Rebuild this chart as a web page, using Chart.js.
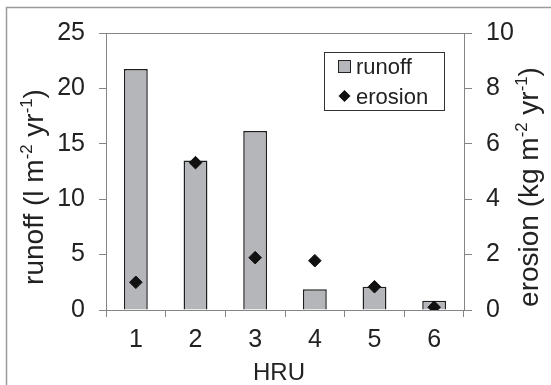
<!DOCTYPE html>
<html>
<head>
<style>
  html, body { margin: 0; padding: 0; background: #fff; }
  #wrap { width: 551px; height: 385px; position: relative; }
</style>
</head>
<body>
<div id="wrap"><canvas id="myChart"></canvas></div>
<script src="https://cdn.jsdelivr.net/npm/chart.js@4.4.0/dist/chart.umd.min.js"></script>
<script>
// data
const hru = ['1', '2', '3', '4', '5', '6'];
const runoff = [21.75, 13.5, 16.15, 1.87, 2.1, 0.84];
const erosion = [1.0, 5.32, 1.89, 1.78, 0.84, 0.1];
const runoffTicks = [0, 5, 10, 15, 20, 25];
const erosionTicks = [0, 2, 4, 6, 8, 10];

const FONT = '"Liberation Sans", Arial, sans-serif';
const axisGray = '#858585';

// draw text with superscript pieces, rotated or not, centred on (cx, baseline)
function richText(ctx, parts, cx, base, rot, size) {
  ctx.save();
  ctx.translate(cx, base);
  ctx.rotate(rot);
  let w = 0;
  parts.forEach(p => {
    ctx.font = (p.sup ? size * 0.6 : size) + 'px ' + FONT;
    w += ctx.measureText(p.t).width;
  });
  let x = -w / 2;
  ctx.fillStyle = '#222';
  ctx.textBaseline = 'alphabetic';
  ctx.textAlign = 'left';
  parts.forEach(p => {
    ctx.font = (p.sup ? size * 0.6 : size) + 'px ' + FONT;
    ctx.fillText(p.t, x, p.sup ? -size * 0.38 : 0);
    x += ctx.measureText(p.t).width;
  });
  ctx.restore();
}

const decor = {
  id: 'decor',
  afterDraw(chart) {
    const ctx = chart.ctx;
    const a = chart.chartArea;
    ctx.save();
    // outer frame (left and top only)
    ctx.strokeStyle = '#9a9a9a';
    ctx.lineWidth = 1.5;
    ctx.beginPath();
    ctx.moveTo(6.5, 385);
    ctx.lineTo(6.5, 7.5);
    ctx.lineTo(551, 7.5);
    ctx.stroke();
    // top edge of plot area
    ctx.strokeStyle = axisGray;
    ctx.lineWidth = 1;
    ctx.beginPath();
    ctx.moveTo(a.left, a.top + 0.5);
    ctx.lineTo(a.right, a.top + 0.5);
    ctx.stroke();

    // axis titles
    richText(ctx, [{t: 'runoff (l m'}, {t: '-2', sup: true}, {t: ' yr'}, {t: '-1', sup: true}, {t: ')'}],
      43, 187, -Math.PI / 2, 28);
    richText(ctx, [{t: 'erosion (kg m'}, {t: '-2', sup: true}, {t: ' yr'}, {t: '-1', sup: true}, {t: ')'}],
      538, 187, -Math.PI / 2, 28);
    richText(ctx, [{t: 'HRU'}], 279, 380, 0, 24);

    // legend
    const ds = chart.data.datasets;
    ctx.strokeStyle = '#333';
    ctx.lineWidth = 1;
    ctx.fillStyle = '#fff';
    ctx.fillRect(324, 52, 120, 58);
    ctx.strokeRect(324.5, 52.5, 120, 58);
    ctx.fillStyle = ds[0].backgroundColor;
    ctx.fillRect(338.5, 60.5, 12, 12);
    ctx.strokeStyle = '#222';
    ctx.strokeRect(338.5, 60.5, 12, 12);
    ctx.fillStyle = ds[1].backgroundColor;
    ctx.beginPath();
    ctx.moveTo(344.5, 90);
    ctx.lineTo(350.5, 96);
    ctx.lineTo(344.5, 102);
    ctx.lineTo(338.5, 96);
    ctx.closePath();
    ctx.fill();
    ctx.fillStyle = '#222';
    ctx.font = '22px ' + FONT;
    ctx.textAlign = 'left';
    ctx.textBaseline = 'alphabetic';
    ctx.fillText(ds[0].label, 356, 74);
    ctx.fillText(ds[1].label, 356, 104);
    ctx.restore();
  }
};

const ctx = document.getElementById('myChart').getContext('2d');
new Chart(ctx, {
  data: {
    labels: hru,
    datasets: [
      {
        type: 'bar',
        label: 'runoff',
        data: runoff,
        yAxisID: 'y',
        backgroundColor: '#b5b6ba',
        borderColor: '#1e1e1e',
        borderWidth: 1.5,
        barPercentage: 0.4,
        categoryPercentage: 1,
        order: 1
      },
      {
        type: 'scatter',
        label: 'erosion',
        data: erosion,
        yAxisID: 'y1',
        backgroundColor: '#111',
        borderColor: '#111',
        pointStyle: 'rectRot',
        pointRadius: 6.3,
        showLine: false,
        order: 0
      }
    ]
  },
  options: {
    responsive: true,
    maintainAspectRatio: false,
    animation: false,
    layout: { padding: { top: 33, left: 0, right: 0, bottom: 0 } },
    plugins: { legend: { display: false }, tooltip: { enabled: false } },
    scales: {
      x: {
        type: 'category',
        offset: true,
        grid: { display: true, drawOnChartArea: false, offset: true, tickLength: 7, color: axisGray },
        border: { color: axisGray },
        ticks: { font: { family: FONT, size: 25 }, color: '#222', padding: 8 },
        afterFit: s => { s.height = 75; }
      },
      y: {
        position: 'left',
        min: 0, max: 25,
        afterBuildTicks: s => { s.ticks = runoffTicks.map(v => ({ value: v })); },
        grid: { drawOnChartArea: false, tickLength: 7, color: axisGray },
        border: { color: axisGray },
        ticks: { font: { family: FONT, size: 25 }, color: '#222', padding: 14 },
        afterFit: s => { s.width = 106; }
      },
      y1: {
        position: 'right',
        min: 0, max: 10,
        afterBuildTicks: s => { s.ticks = erosionTicks.map(v => ({ value: v })); },
        grid: { drawOnChartArea: false, tickLength: 8, color: axisGray },
        border: { color: axisGray },
        ticks: { font: { family: FONT, size: 25 }, color: '#222', padding: 14 },
        afterFit: s => { s.width = 87; }
      }
    }
  },
  plugins: [decor]
});
</script>
</body>
</html>
